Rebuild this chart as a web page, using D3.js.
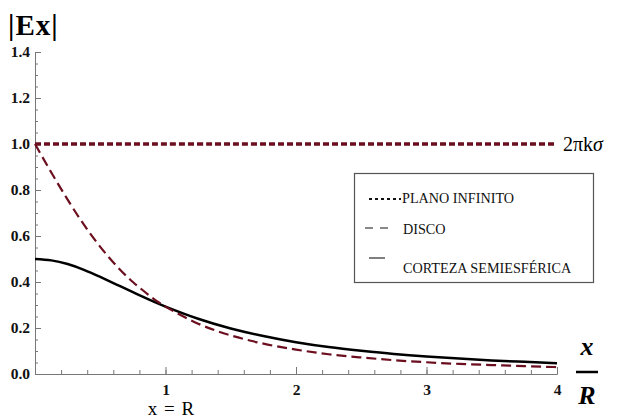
<!DOCTYPE html>
<html>
<head>
<meta charset="utf-8">
<script src="https://cdn.jsdelivr.net/npm/d3@7"></script>
<style>
  body { margin: 0; background: #fff; }
  svg { display: block; }
  .axis path, .axis line { stroke: #777; }
</style>
</head>
<body>
<svg id="chart" width="631" height="419"></svg>
<script>
// x / R sample positions
var xs = [0, 0.125, 0.25, 0.375, 0.5, 0.625, 0.75, 0.875, 1, 1.25, 1.5, 1.75, 2, 2.25, 2.5, 2.75, 3, 3.25, 3.5, 3.75, 4];
// |Ex| (units of 2*pi*k*sigma)
var plano = [1, 1, 1, 1, 1, 1, 1, 1, 1, 1, 1, 1, 1, 1, 1, 1, 1, 1, 1, 1, 1];
var disco = [1.0, 0.876, 0.758, 0.649, 0.553, 0.470, 0.400, 0.342, 0.293, 0.219, 0.168, 0.132, 0.106, 0.086, 0.072, 0.060, 0.051, 0.044, 0.039, 0.034, 0.030];
var corteza = [0.5, 0.494, 0.478, 0.453, 0.422, 0.389, 0.356, 0.323, 0.293, 0.240, 0.198, 0.165, 0.138, 0.117, 0.101, 0.087, 0.076, 0.067, 0.059, 0.053, 0.047];

var xMajor = [1, 2, 3, 4];
var yMajor = [0, 0.2, 0.4, 0.6, 0.8, 1.0, 1.2, 1.4];

var legendItems = [
    {label: "PLANO INFINITO", dash: "3,3", color: "#111", width: 2},
    {label: "DISCO", dash: "8,7", color: "#111", width: 1},
    {label: "CORTEZA SEMIESFÉRICA", dash: null, color: "#555", width: 1.5}
];

var serif = "Liberation Serif";

var svg = d3.select("#chart"),
    margin = {top: 52, right: 74, bottom: 45, left: 35},
    width = +svg.attr("width") - margin.left - margin.right,
    height = +svg.attr("height") - margin.top - margin.bottom,
    g = svg.append("g").attr("transform", "translate(" + margin.left + "," + margin.top + ")");

var x = d3.scaleLinear().domain([0, 4]).range([0, width]);
var y = d3.scaleLinear().domain([0, 1.4]).range([height, 0]);

// minor ticks
g.append("g")
    .attr("class", "axis")
    .attr("transform", "translate(0," + height + ")")
    .call(d3.axisBottom(x).tickValues(d3.range(0, 4.01, 0.2)).tickSize(-4).tickSizeOuter(0).tickFormat(""));
g.append("g")
    .attr("class", "axis")
    .call(d3.axisLeft(y).tickValues(d3.range(0, 1.401, 0.05)).tickSize(-3).tickSizeOuter(0).tickFormat(""));

// major ticks
var xAxis = g.append("g")
    .attr("class", "axis")
    .attr("transform", "translate(0," + height + ")")
    .call(d3.axisBottom(x).tickValues(xMajor).tickSize(-7).tickSizeOuter(0).tickPadding(10).tickFormat(d3.format("d")));
var yAxis = g.append("g")
    .attr("class", "axis")
    .call(d3.axisLeft(y).tickValues(yMajor).tickSize(-6).tickSizeOuter(0).tickPadding(5).tickFormat(d3.format(".1f")));

[xAxis, yAxis].forEach(function (ax) {
    ax.attr("font-family", serif).attr("font-size", 15.5).attr("font-weight", "bold");
    ax.selectAll("text").attr("fill", "#111");
});

var line = d3.line()
    .x(function (d) { return x(d[0]); })
    .y(function (d) { return y(d[1]); })
    .curve(d3.curveNatural);

function pts(vals) {
    return xs.map(function (v, i) { return [v, vals[i]]; });
}

g.append("path")
    .datum(pts(corteza))
    .attr("fill", "none")
    .attr("stroke", "#000")
    .attr("stroke-width", 2.5)
    .attr("d", line);

g.append("path")
    .datum(pts(disco))
    .attr("fill", "none")
    .attr("stroke", "#6b0f1f")
    .attr("stroke-width", 2.2)
    .attr("stroke-dasharray", "10,5")
    .attr("d", line);

g.append("path")
    .datum(pts(plano))
    .attr("fill", "none")
    .attr("stroke", "#6b0f1f")
    .attr("stroke-width", 3.5)
    .attr("stroke-dasharray", "6,3")
    .attr("d", line);

// labels
svg.append("text")
    .attr("x", 8).attr("y", 35)
    .attr("font-family", serif).attr("font-weight", "bold").attr("font-size", 29)
    .attr("letter-spacing", 1)
    .text("|Ex|");

svg.append("text")
    .attr("x", 171).attr("y", 415)
    .attr("text-anchor", "middle")
    .attr("font-family", serif).attr("font-size", 19)
    .attr("word-spacing", 2)
    .text("x = R");

var sig = svg.append("text")
    .attr("x", 563).attr("y", 151)
    .attr("font-family", serif).attr("font-size", 20);
sig.append("tspan").text("2πk");
sig.append("tspan").attr("font-style", "italic").text("σ");

svg.append("text")
    .attr("x", 587).attr("y", 355)
    .attr("text-anchor", "middle")
    .attr("font-family", serif).attr("font-weight", "bold").attr("font-style", "italic").attr("font-size", 26)
    .text("x");
svg.append("line")
    .attr("x1", 576).attr("x2", 598).attr("y1", 372).attr("y2", 372)
    .attr("stroke", "#000").attr("stroke-width", 2.5);
svg.append("text")
    .attr("x", 587).attr("y", 404)
    .attr("text-anchor", "middle")
    .attr("font-family", serif).attr("font-weight", "bold").attr("font-style", "italic").attr("font-size", 26)
    .text("R");

// legend
var legend = svg.append("g");
legend.append("rect")
    .attr("x", 354.5).attr("y", 173.5)
    .attr("width", 239).attr("height", 109)
    .attr("fill", "#fff")
    .attr("stroke", "#555")
    .attr("stroke-width", 1.2);

var rows = [{ly: 199, ty: 203, x1: 369, x2: 401}, {ly: 228, ty: 234, x1: 365, x2: 390}, {ly: 258, ty: 273, x1: 369, x2: 385}];
var item = legend.selectAll("g.item")
    .data(legendItems)
    .enter().append("g")
    .attr("class", "item");
item.append("line")
    .attr("x1", function (d, i) { return rows[i].x1; })
    .attr("x2", function (d, i) { return rows[i].x2; })
    .attr("y1", function (d, i) { return rows[i].ly; })
    .attr("y2", function (d, i) { return rows[i].ly; })
    .attr("stroke", function (d) { return d.color; })
    .attr("stroke-width", function (d) { return d.width; })
    .attr("stroke-dasharray", function (d) { return d.dash; });
item.append("text")
    .attr("x", function (d, i) { return i === 0 ? 402 : 403; })
    .attr("y", function (d, i) { return rows[i].ty; })
    .attr("font-family", serif)
    .attr("font-size", 14.2)
    .attr("fill", "#111")
    .text(function (d) { return d.label; });
</script>
</body>
</html>
